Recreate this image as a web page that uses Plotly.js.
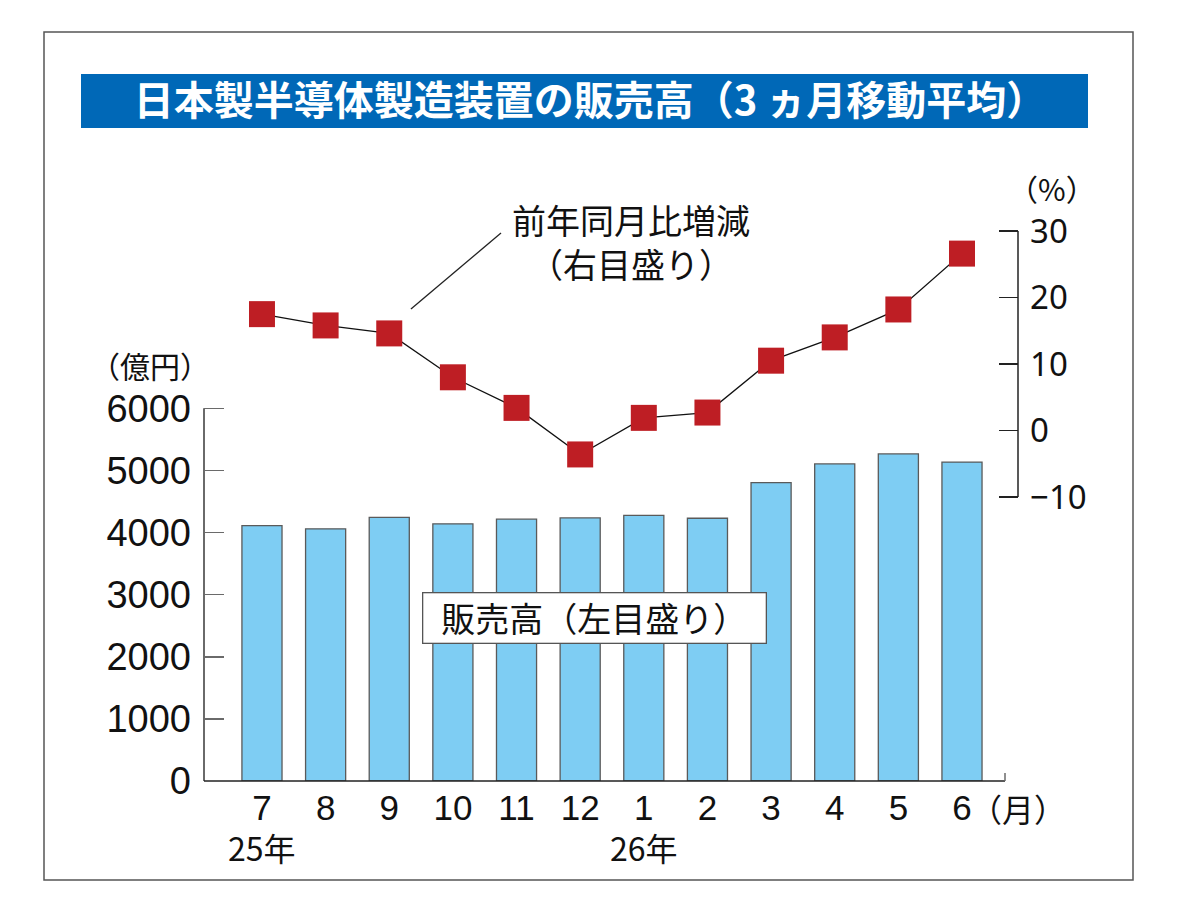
<!DOCTYPE html>
<html>
<head>
<meta charset="utf-8">
<script src="https://cdn.plot.ly/plotly-3.0.1.min.js"></script>
<style>
  html, body { margin: 0; padding: 0; background: #fff; }
  #chart { width: 1178px; height: 915px; }
</style>
</head>
<body>
<div id="chart"></div>
<script>
// Data
const months = ['7', '8', '9', '10', '11', '12', '1', '2', '3', '4', '5', '6'];
const sales = [4110, 4060, 4245, 4140, 4215, 4235, 4275, 4230, 4805, 5105, 5265, 5135];   // 億円
const yoyChange = [17.5, 15.8, 14.6, 8.0, 3.4, -3.6, 1.9, 2.7, 10.5, 14.0, 18.2, 26.6]; // %
const leftTicks = [0, 1000, 2000, 3000, 4000, 5000, 6000];
const rightTicks = [-10, 0, 10, 20, 30];

const JP = '"Noto Sans CJK JP", "Noto Sans CJK SC", sans-serif';
const NUM = '"Liberation Sans", Arial, sans-serif';

// plot area in pixels
const L = 204, R = 1018, T = 200, B = 781;
const W = 1178, H = 915;
const px = x => (x - L) / (R - L);      // pixel -> paper x
const py = y => (B - y) / (B - T);      // pixel -> paper y

const idx = months.map((m, i) => i);

const bars = {
    type: 'bar', x: idx, y: sales, width: 0.63,
    marker: { color: '#7ecdf3', line: { color: '#5a5a5a', width: 1.3 } },
    hoverinfo: 'skip'
};

const line = {
    type: 'scatter', mode: 'lines+markers', x: idx, y: yoyChange, yaxis: 'y2',
    line: { color: '#111', width: 1.3 },
    marker: { symbol: 'square', size: 26, color: '#be1e24' },
    hoverinfo: 'skip'
};

const layout = {
    width: W, height: H,
    margin: { l: L, r: W - R, t: T, b: H - B },
    paper_bgcolor: '#fff', plot_bgcolor: 'rgba(0,0,0,0)',
    showlegend: false,
    bargap: 0,
    title: {
        text: '<b>日本製半導体製造装置の販売高（3 ヵ月移動平均）</b>',
        font: { family: JP, size: 40, color: '#fff' },
        x: 590 / W, y: 1 - 101 / H, xanchor: 'center', yanchor: 'middle',
        xref: 'container', yref: 'container'
    },
    xaxis: {
        range: [-0.911, 11.88], tickvals: idx, ticktext: months,
        showgrid: false, zeroline: false, showline: false, ticks: '',
        tickfont: { family: NUM, size: 35, color: '#111' },
        ticklabelstandoff: 3, fixedrange: true
    },
    yaxis: {
        range: [0, (B - T) / ((B - 408.3) / 6000)],
        tickvals: leftTicks, ticktext: leftTicks.map(String),
        showgrid: false, zeroline: false, showline: false,
        ticks: 'inside', ticklen: 20, tickwidth: 1.5, tickcolor: '#6a6a6a',
        tickfont: { family: NUM, size: 38, color: '#111' },
        ticklabelstandoff: 12, fixedrange: true
    },
    yaxis2: {
        overlaying: 'y', side: 'right', anchor: 'x',
        range: [-(B - 430.5) / 6.65, (430.5 - T) / 6.65],
        tickvals: rightTicks, ticktext: rightTicks.map(v => v < 0 ? '−' + Math.abs(v) : String(v)),
        showgrid: false, zeroline: false, showline: false,
        ticks: 'inside', ticklen: 19, tickwidth: 1.5, tickcolor: '#222',
        tickfont: { family: '"Noto Sans", "Open Sans", sans-serif', size: 33, color: '#111' },
        ticklabelstandoff: 11, fixedrange: true
    },
    shapes: [
        // outer frame
        { type: 'rect', xref: 'paper', yref: 'paper', x0: px(44), x1: px(1133), y0: py(32), y1: py(880),
          line: { color: '#555', width: 1.5 }, layer: 'below' },
        // title band
        { type: 'rect', xref: 'paper', yref: 'paper', x0: px(81), x1: px(1088), y0: py(74), y1: py(128),
          fillcolor: '#0068b7', line: { width: 0 }, layer: 'below' },
        // left axis line
        { type: 'line', xref: 'paper', yref: 'y', x0: 0, x1: 0, y0: 0, y1: 6000,
          line: { color: '#6a6a6a', width: 2 } },
        // bottom axis line with end tick
        { type: 'line', xref: 'paper', yref: 'paper', x0: 0, x1: px(1005), y0: 0, y1: 0,
          line: { color: '#222', width: 1.5 } },
        { type: 'line', xref: 'paper', yref: 'paper', x0: px(1005), x1: px(1005), y0: 0, y1: py(773),
          line: { color: '#6a6a6a', width: 1.5 } },
        // right axis line
        { type: 'line', xref: 'paper', yref: 'y2', x0: 1, x1: 1, y0: -10, y1: 30,
          line: { color: '#222', width: 1.5 } },
        // leader line for the line series label
        { type: 'line', xref: 'x', yref: 'y2', x0: 2.341, y0: 18.27, x1: 3.756, y1: 29.7,
          line: { color: '#222', width: 1.3 } }
    ],
    annotations: [
        { text: '（億円）', xref: 'paper', yref: 'paper', x: px(150), y: py(365),
          showarrow: false, font: { family: JP, size: 30, color: '#111' }, xanchor: 'center', yanchor: 'middle' },
        { text: '（%）', xref: 'paper', yref: 'paper', x: px(1052), y: py(188),
          showarrow: false, font: { family: JP, size: 30, color: '#111' }, xanchor: 'center', yanchor: 'middle' },
        { text: '前年同月比増減<br>（右目盛り）', xref: 'paper', yref: 'paper', x: px(631), y: py(241),
          showarrow: false, font: { family: JP, size: 34, color: '#111' }, align: 'center',
          xanchor: 'center', yanchor: 'middle' },
        { text: '販売高（左目盛り）', xref: 'paper', yref: 'paper', x: px(594), y: py(618),
          showarrow: false, font: { family: JP, size: 34, color: '#111' },
          bgcolor: '#fff', bordercolor: '#555', borderwidth: 1.3, borderpad: 0,
          width: 342, height: 49, xanchor: 'center', yanchor: 'middle' },
        { text: '（月）', xref: 'paper', yref: 'paper', x: px(1018), y: py(808),
          showarrow: false, font: { family: JP, size: 32, color: '#111' }, xanchor: 'center', yanchor: 'middle' },
        { text: '25年', xref: 'x', yref: 'paper', x: 0, y: py(847),
          showarrow: false, font: { family: JP, size: 32, color: '#111' }, xanchor: 'center', yanchor: 'middle' },
        { text: '26年', xref: 'x', yref: 'paper', x: 6, y: py(847),
          showarrow: false, font: { family: JP, size: 32, color: '#111' }, xanchor: 'center', yanchor: 'middle' }
    ]
};

Plotly.newPlot('chart', [bars, line], layout, { displayModeBar: false, staticPlot: true });
</script>
</body>
</html>
